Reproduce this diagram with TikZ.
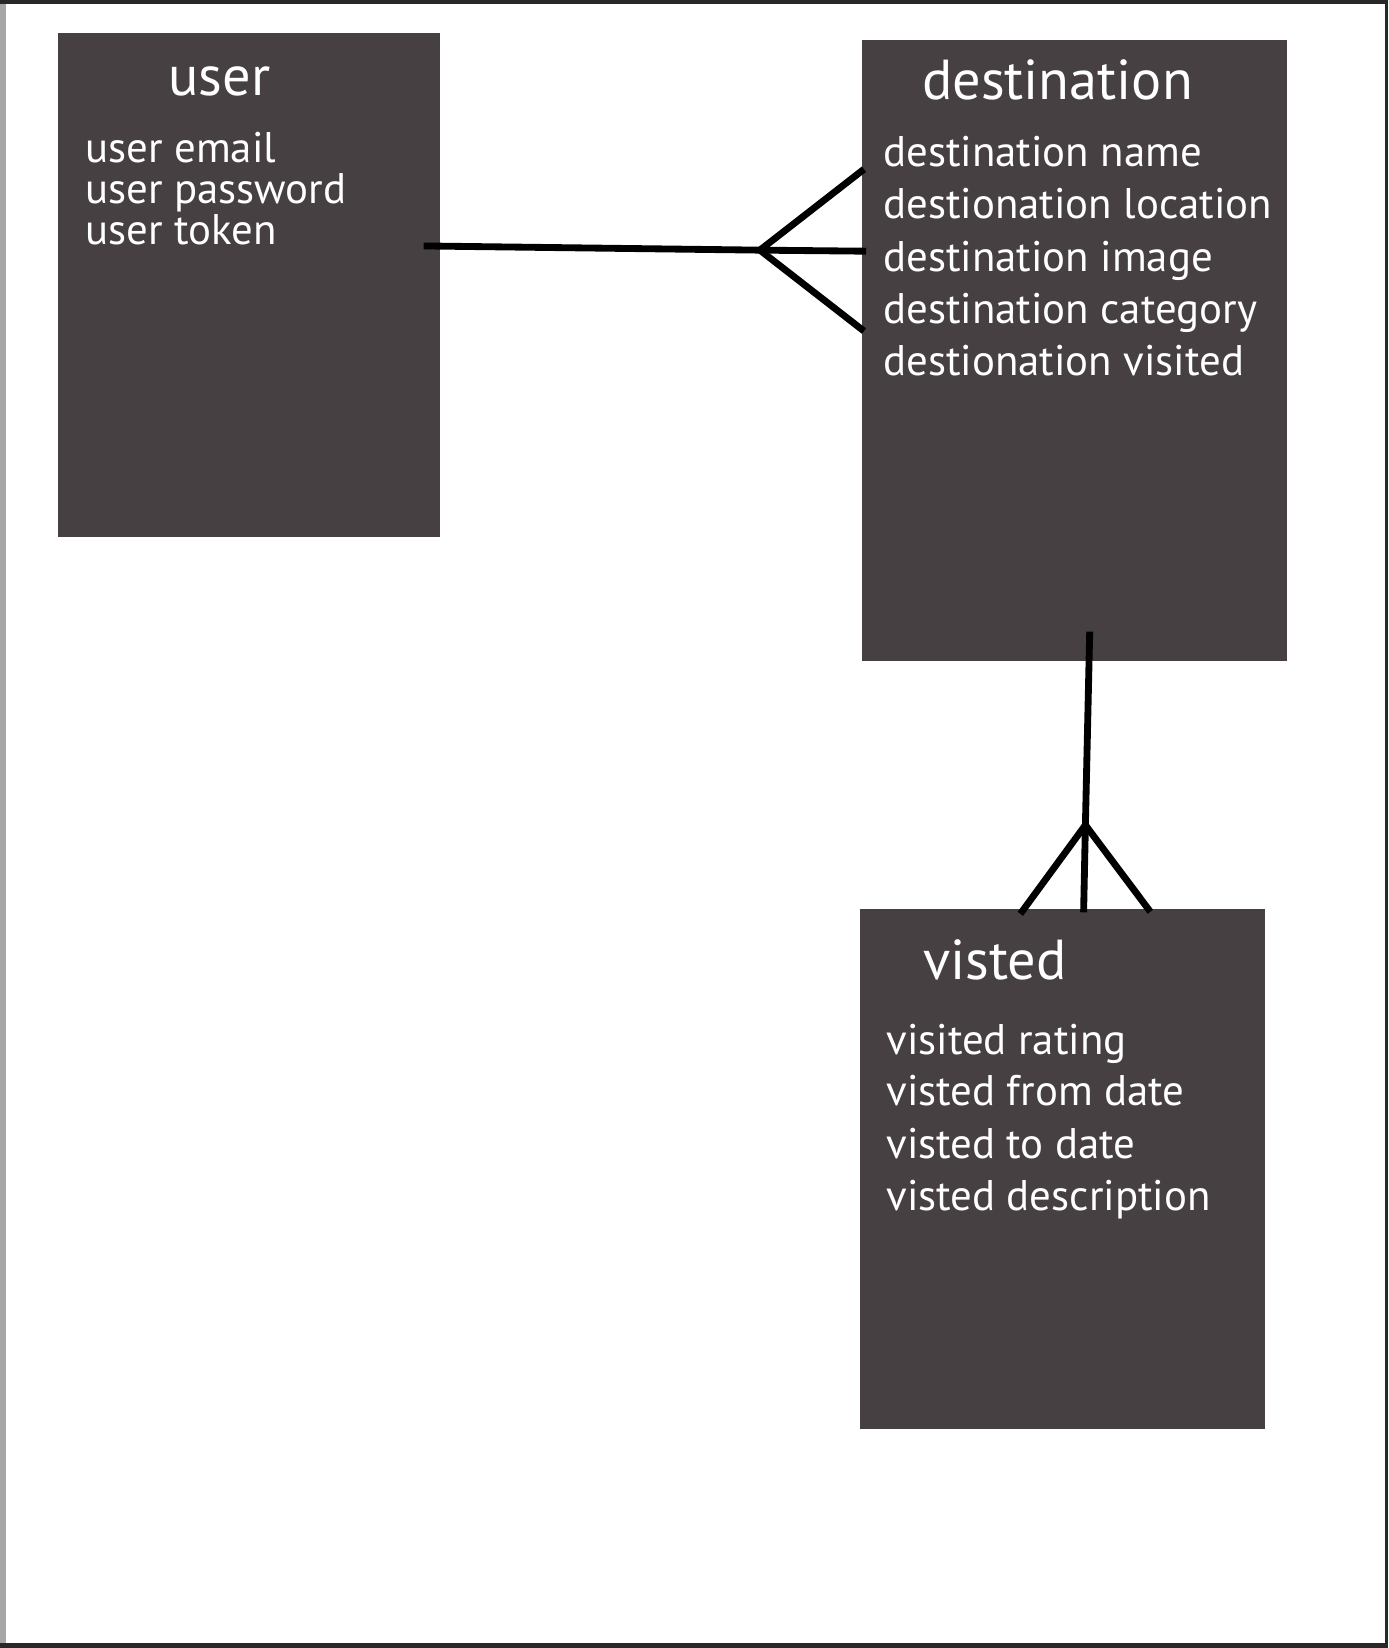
\documentclass[tikz,border=0pt]{standalone}
\usepackage{fontspec}
\setmainfont{PT Sans}
\definecolor{boxfill}{RGB}{70,64,66}
\definecolor{framecol}{RGB}{40,40,40}
\begin{document}
\begin{tikzpicture}[x=0.02cm,y=-0.02cm,
  entity/.style={fill=boxfill, draw=none, inner sep=0pt, outer sep=0pt},
  attr/.style={anchor=base west, text=white, inner sep=0pt, font=\fontsize{23.2}{27}\selectfont},
  ttl/.style={anchor=base west, text=white, inner sep=0pt, font=\fontsize{30.5}{36}\selectfont},
  conn/.style={draw=black, line width=3.7pt}]
\useasboundingbox (0,0) rectangle (1321,1568);
% frame
\fill[framecol] (0,0) rectangle (1321,1568);
\fill[gray!70] (0,4) rectangle (6,1563);
\fill[white] (6,4) rectangle (1318,1563);
% entities
\node[entity, minimum width=7.28cm, minimum height=9.6cm] (user) at (237,271) {};
\node[entity, minimum width=8.1cm, minimum height=11.82cm] (dest) at (1022.5,333.5) {};
\node[entity, minimum width=7.72cm, minimum height=9.9cm] (vis) at (1011,1112.5) {};
% user text
\node[ttl] (ut) at (160,91) {user};
\node[attr] (u1) at (81,155) {user email};
\node[attr] (u2) at (81,194) {user password};
\node[attr] (u3) at (81,233) {user token};
% destination text
\node[ttl] (dt) at (877,95) {destination};
\node[attr] (d1) at (840,158) {destination name};
\node[attr] (d2) at (840,208) {destionation location};
\node[attr] (d3) at (840,258) {destination image};
\node[attr] (d4) at (840,308) {destination category};
\node[attr] (d5) at (840,357) {destionation visited};
% visted text
\node[ttl] (vt) at (878,932) {visted};
\node[attr] (v1) at (843,1003) {visited rating};
\node[attr] (v2) at (843,1052) {visted from date};
\node[attr] (v3) at (843,1102) {visted to date};
\node[attr] (v4) at (843,1152) {visted description};
% connector user - destination (crow's foot)
\coordinate (ua) at (403,234);
\coordinate (cfa) at (723,238);
\coordinate (da1) at (822,161);
\coordinate (da2) at (824,239);
\coordinate (da3) at (822,315);
\draw[conn] (ua) -- (cfa) -- (da2);
\draw[conn] (da1) -- (cfa) -- (da3);
% connector destination - visted
\coordinate (db) at (1036.8,601);
\coordinate (cfb) at (1032.7,785);
\coordinate (vb1) at (970.8,869.5);
\coordinate (vb2) at (1031,868);
\coordinate (vb3) at (1094.5,867.5);
\draw[conn] (db) -- (cfb) -- (vb2);
\draw[conn] (vb1) -- (cfb) -- (vb3);
\end{tikzpicture}
\end{document}
